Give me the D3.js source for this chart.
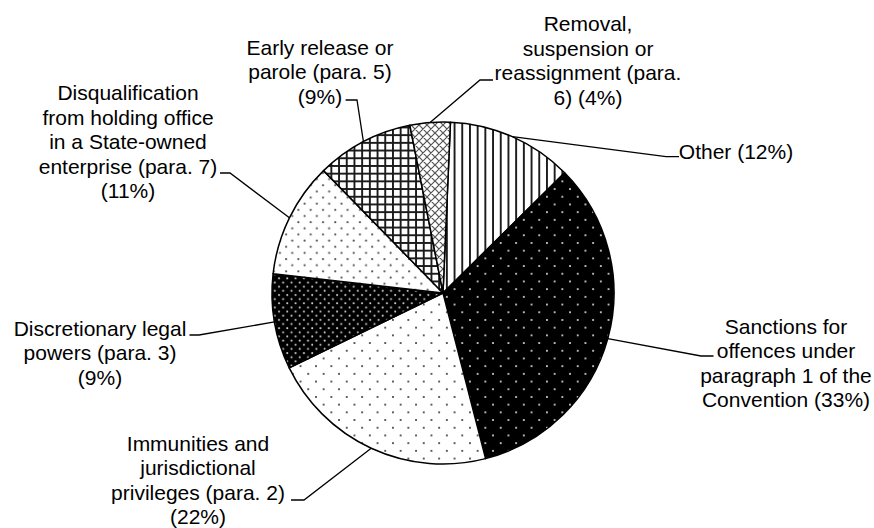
<!DOCTYPE html>
<html>
<head>
<meta charset="utf-8">
<script src="https://cdn.jsdelivr.net/npm/d3@7"></script>
<style>
body { margin: 0; background: #fff; }
text { font-family: "Liberation Sans", Arial, sans-serif; font-size: 21px; fill: #000; }
</style>
</head>
<body>
<svg id="chart" width="874" height="528"></svg>
<script>
// categories in clockwise order, starting just right of 12 o'clock
var categories = ["Other", "Sanctions", "Immunities", "Discretionary", "Disqualification", "Early release", "Removal"];
var values = [11.9, 33.4, 21.8, 9.0, 10.9, 9.2, 3.8];
// label text, {p} is replaced by the rounded share
var labelLines = [
  ["Other {p}"],
  ["Sanctions for", "offences under", "paragraph 1 of the", "Convention {p}"],
  ["Immunities and", "jurisdictional", "privileges (para. 2)", "{p}"],
  ["Discretionary legal", "powers (para. 3)", "{p}"],
  ["Disqualification", "from holding office", "in a State-owned", "enterprise (para. 7)", "{p}"],
  ["Early release or", "parole (para. 5)", "{p}"],
  ["Removal,", "suspension or", "reassignment (para.", "6) {p}"]
];
var fills = ["vert", "dotsBlack", "dotsWhite", "denseBlack", "denseWhite", "grid", "cross"];

// label placement (center x, first line y, elbow and attach point of leader)
var labelLayout = [
  {x: 736, y: 151.5, elbow: [666, 156.6], attach: [679, 156.6]},
  {x: 786, y: 326, elbow: [701, 356], attach: [713.5, 356]},
  {x: 198, y: 443, elbow: [304, 500], attach: [291, 500]},
  {x: 100, y: 328, elbow: [199, 335], attach: [189.5, 335]},
  {x: 128, y: 92.6, elbow: [230, 173], attach: [220, 173]},
  {x: 320, y: 47, elbow: [357, 100], attach: [345.6, 100]},
  {x: 588, y: 23.6, elbow: [480, 80], attach: [493, 80]}
];

var cx = 443, cy = 293, radius = 171, lineHeight = 24.5;
var start = 2.5 * Math.PI / 180;

var svg = d3.select("#chart");
var defs = svg.append("defs");

// fill patterns
function pattern(id, size, bg) {
  var p = defs.append("pattern")
      .attr("id", id)
      .attr("patternUnits", "userSpaceOnUse")
      .attr("width", size)
      .attr("height", size);
  p.append("rect").attr("width", size).attr("height", size).attr("fill", bg);
  return p;
}
var p;
p = pattern("vert", 7.7, "#fff");
p.append("rect").attr("x", 2.9).attr("width", 1.9).attr("height", 7.7).attr("fill", "#1a1a1a");

p = pattern("dotsBlack", 15.4, "#000");
[[3.85, 3.85], [11.55, 11.55]].forEach(function(d) {
  p.append("circle").attr("cx", d[0]).attr("cy", d[1]).attr("r", 1.0).attr("fill", "#eee");
});

p = pattern("dotsWhite", 15.4, "#fff");
[[3.85, 3.85], [11.55, 11.55]].forEach(function(d) {
  p.append("circle").attr("cx", d[0]).attr("cy", d[1]).attr("r", 0.95).attr("fill", "#222");
});

p = pattern("denseBlack", 8.3, "#000");
[[2, 2], [6.15, 6.15]].forEach(function(d) {
  p.append("circle").attr("cx", d[0]).attr("cy", d[1]).attr("r", 1.0).attr("fill", "#ccc");
});

p = pattern("denseWhite", 12.3, "#fff");
[[3, 3], [9.15, 9.15]].forEach(function(d) {
  p.append("circle").attr("cx", d[0]).attr("cy", d[1]).attr("r", 1.1).attr("fill", "#555");
});

p = pattern("grid", 7.7, "#fff");
p.append("rect").attr("x", 2.9).attr("width", 1.9).attr("height", 7.7).attr("fill", "#1a1a1a");
p.append("rect").attr("y", 2.9).attr("width", 7.7).attr("height", 1.9).attr("fill", "#1a1a1a");

p = pattern("cross", 8, "#fff");
p.append("path").attr("d", "M0,0L8,8M8,0L0,8M-1,7L1,9M7,-1L9,1M-1,1L1,-1M7,9L9,7")
  .attr("stroke", "#555").attr("stroke-width", 1.2).attr("fill", "none");

var pie = d3.pie().sort(null).startAngle(start).endAngle(start + 2 * Math.PI);
var arcs = pie(values);
var arc = d3.arc().innerRadius(0).outerRadius(radius);
var edge = d3.arc().innerRadius(radius).outerRadius(radius);

var g = svg.append("g").attr("transform", "translate(" + cx + "," + cy + ")");

g.selectAll("path.slice")
    .data(arcs)
  .enter().append("path")
    .attr("class", "slice")
    .attr("d", arc)
    .attr("fill", function(d, i) { return "url(#" + fills[i] + ")"; })
    .attr("stroke", "#000")
    .attr("stroke-width", 1.5)
    .attr("stroke-linejoin", "round");

// leader lines
svg.selectAll("polyline.leader")
    .data(arcs)
  .enter().append("polyline")
    .attr("class", "leader")
    .attr("points", function(d, i) {
      var c = edge.centroid(d);
      var l = labelLayout[i];
      return [[cx + c[0], cy + c[1]], l.elbow, l.attach].map(function(q) { return q.join(","); }).join(" ");
    })
    .attr("fill", "none")
    .attr("stroke", "#000")
    .attr("stroke-width", 1.3);

// labels
var pct = function(v) { return "(" + Math.round(v) + "%)"; };
svg.selectAll("text.label")
    .data(arcs)
  .enter().append("text")
    .attr("class", "label")
    .attr("text-anchor", "middle")
    .each(function(d, i) {
      var t = d3.select(this);
      var l = labelLayout[i];
      labelLines[i].forEach(function(line, j) {
        t.append("tspan")
          .attr("x", l.x)
          .attr("y", l.y + j * lineHeight)
          .attr("dy", "0.36em")
          .text(line.replace("{p}", pct(d.value)));
      });
    });
</script>
</body>
</html>
